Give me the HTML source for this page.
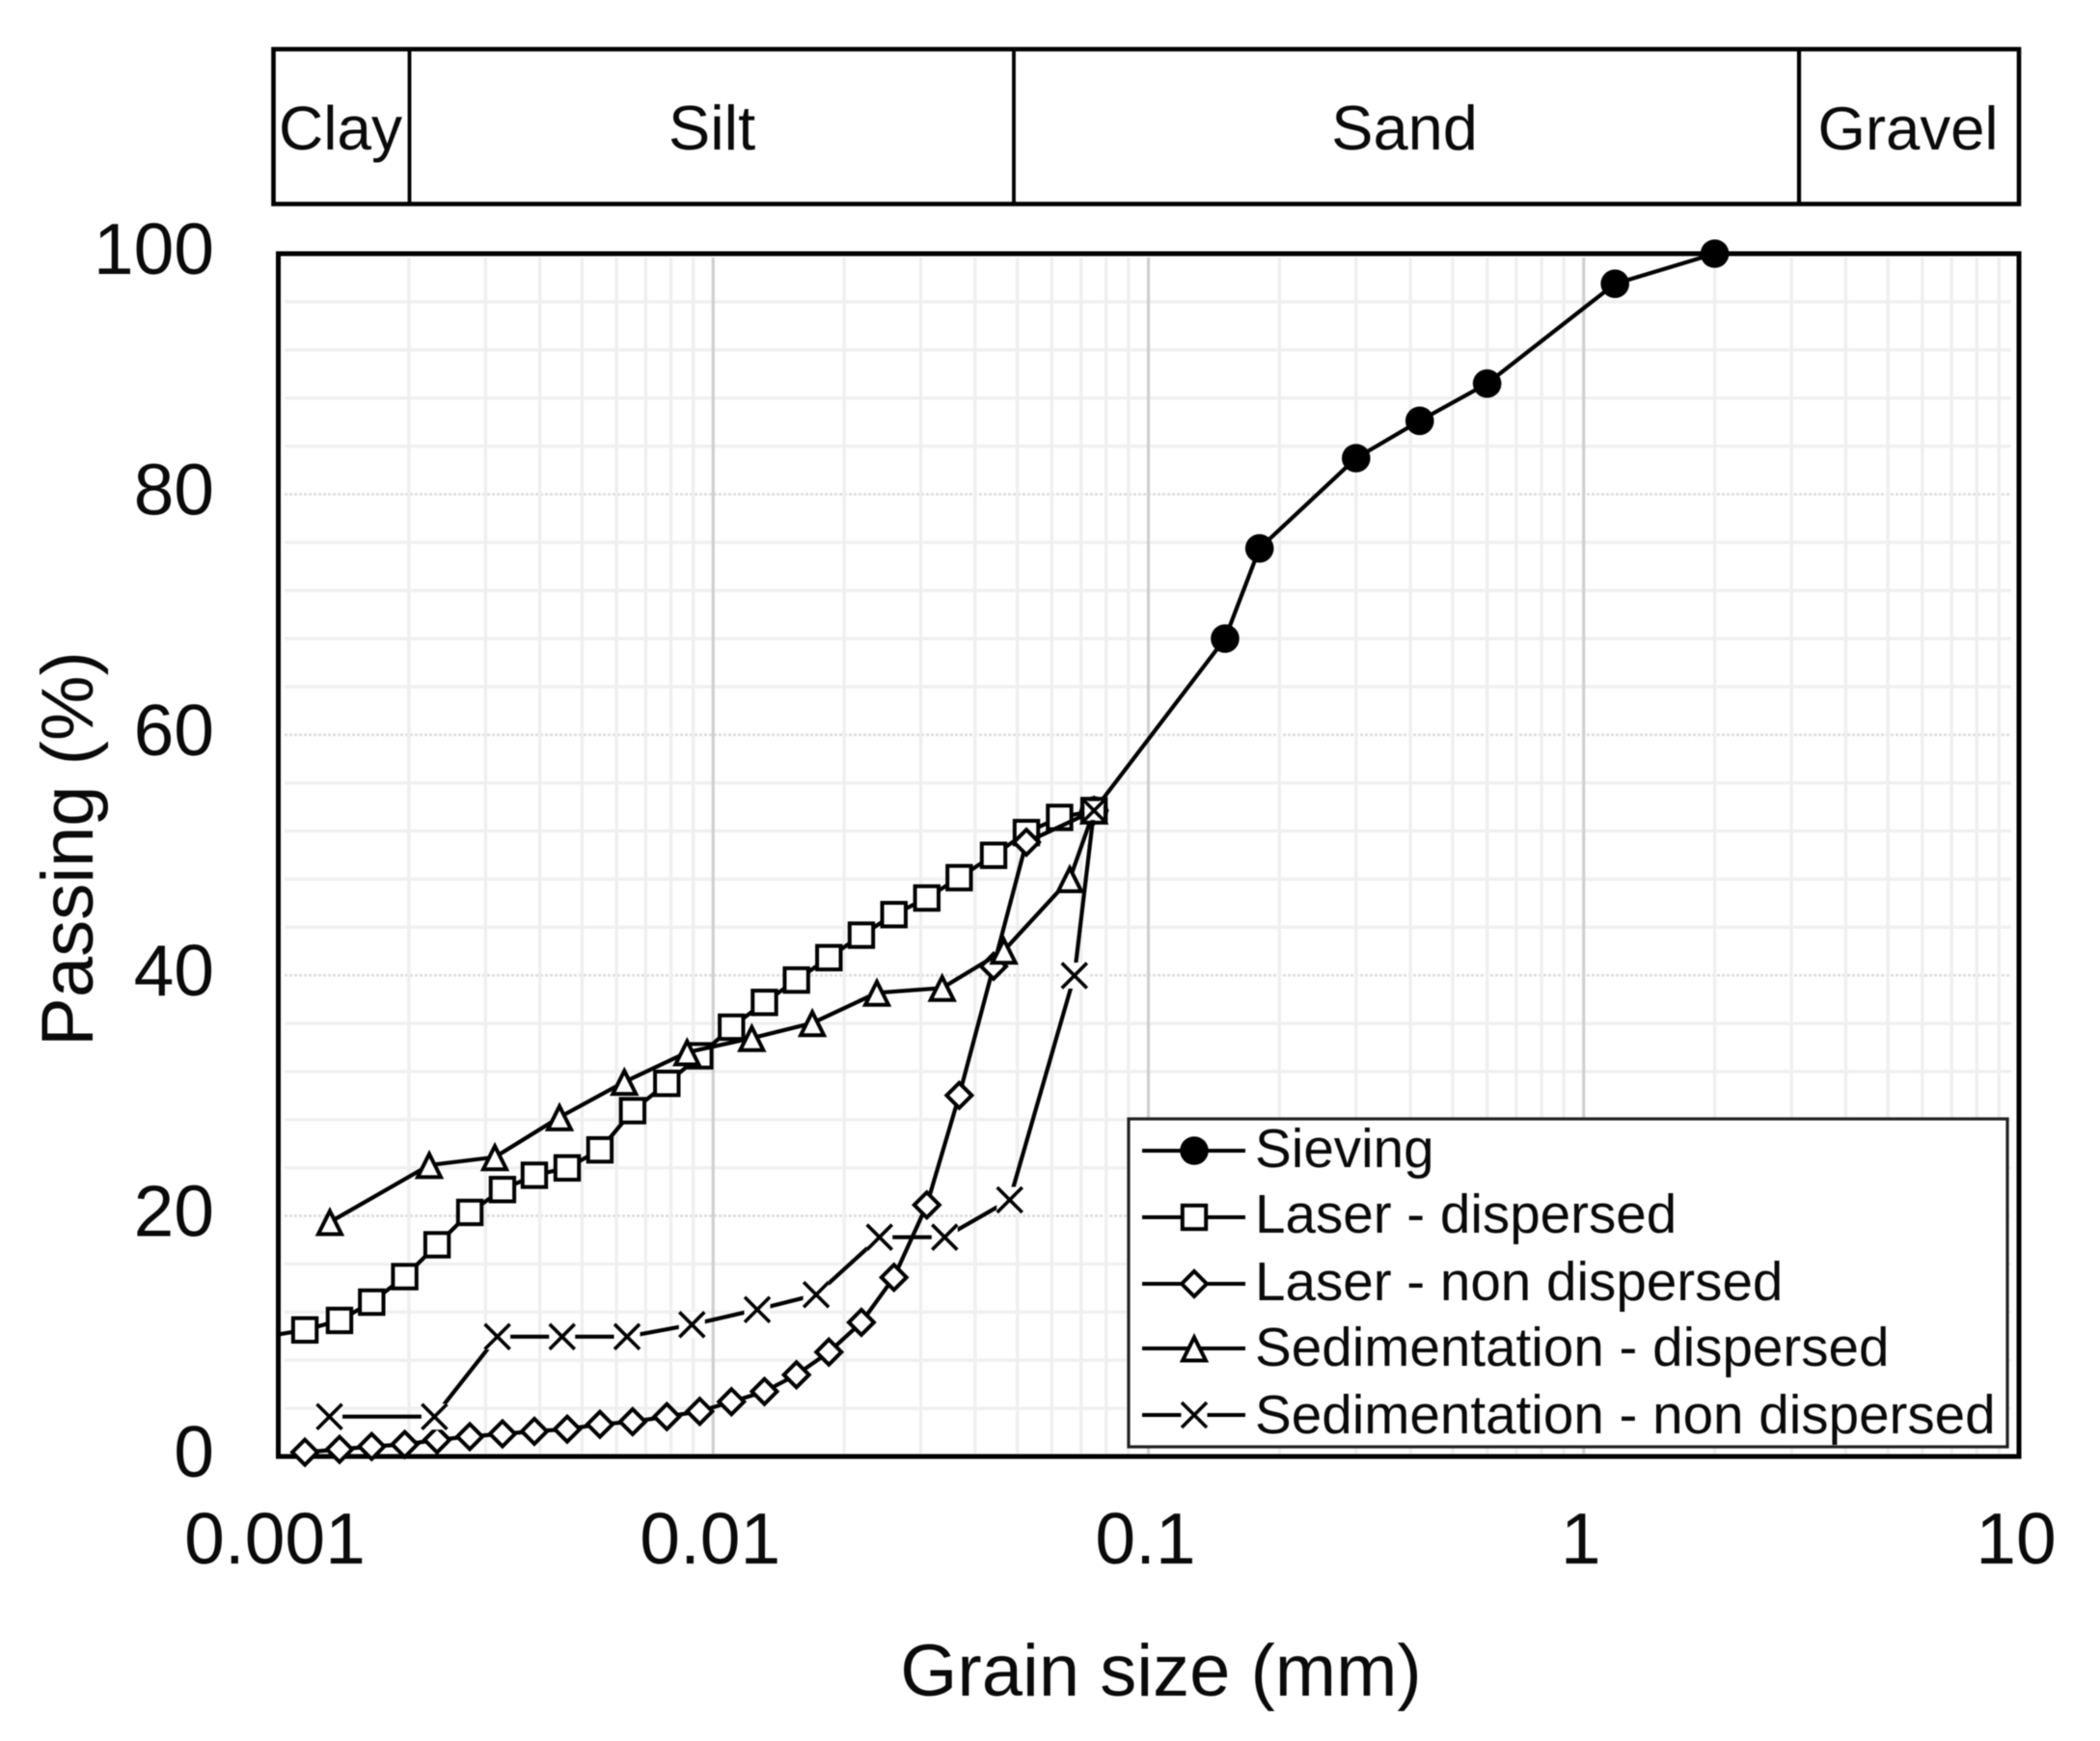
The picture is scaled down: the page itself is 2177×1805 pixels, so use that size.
<!DOCTYPE html>
<html lang="en">
<head>
<meta charset="utf-8">
<title>Grain size distribution</title>
<style>
html,body{margin:0;padding:0;background:#fff;}
svg{display:block;filter:blur(0.6px);}
text{font-family:"Liberation Sans",Arial,sans-serif;fill:#0a0a0a;}
</style>
</head>
<body>
<svg id="chart" xmlns="http://www.w3.org/2000/svg" width="2177" height="1805" viewBox="0 0 2177 1805">
  <defs>
    <clipPath id="plot-clip"><rect x="286" y="200" width="1900" height="1400"/></clipPath>
  </defs>
  <rect x="0" y="0" width="2177" height="1805" fill="#fff"/>

  <g>
    <rect x="283.5" y="51" width="1809.5" height="160.5" fill="#fff" stroke="#000" stroke-width="4.6"/>
    <line x1="424.5" y1="51" x2="424.5" y2="211.5" stroke="#000" stroke-width="3.8"/>
    <line x1="1051" y1="51" x2="1051" y2="211.5" stroke="#000" stroke-width="3.8"/>
    <line x1="1865" y1="51" x2="1865" y2="211.5" stroke="#000" stroke-width="4.2"/>
    <text x="353" y="155" font-size="64" text-anchor="middle">Clay</text>
    <text x="738" y="155" font-size="65" text-anchor="middle">Silt</text>
    <text x="1456" y="155" font-size="65" text-anchor="middle">Sand</text>
    <text x="1978" y="155" font-size="63.5" text-anchor="middle">Gravel</text>
  </g>

  <g id="grid"></g>
  <rect x="288.5" y="263" width="1804.5" height="1247" fill="none" stroke="#000" stroke-width="5"/>
  <g id="ticks"></g>
  <g id="series"></g>

  <text x="1203.5" y="1758" font-size="76" text-anchor="middle">Grain size (mm)</text>
  <text x="0" y="0" font-size="76" text-anchor="middle" transform="translate(96 880) rotate(-90)">Passing (%)</text>

  <g id="legend">
    <rect x="1170" y="1160" width="911" height="340" fill="#fff" stroke="#222" stroke-width="3.2"/>
    <text x="1301" y="1210" font-size="56.6">Sieving</text>
    <text x="1301" y="1278" font-size="56.6">Laser - dispersed</text>
    <text x="1301" y="1348" font-size="56.6">Laser - non dispersed</text>
    <text x="1301" y="1416" font-size="56.6">Sedimentation - dispersed</text>
    <text x="1301" y="1486" font-size="56.6">Sedimentation - non dispersed</text>
  </g>
</svg>
<script>
// ---- chart data ----
const xTickValues = [0.001, 0.01, 0.1, 1, 10];
const xTickLabels = ['0.001', '0.01', '0.1', '1', '10'];
const yTickValues = [0, 20, 40, 60, 80, 100];
const yTickLabels = ['0', '20', '40', '60', '80', '100'];
const yMinorValues = [4, 8, 12, 16, 24, 28, 32, 36, 44, 48, 52, 56, 64, 68, 72, 76, 84, 88, 92, 96];
const minorMultipliers = [2, 3, 4, 5, 6, 7, 8, 9];

const sievingX = [0.075, 0.15, 0.18, 0.3, 0.42, 0.6, 1.18, 2.0];
const sievingY = [53.7, 68.0, 75.5, 83.0, 86.1, 89.2, 97.5, 100];

const laserDispersedX = [0.00088, 0.001154, 0.001386, 0.001643, 0.001957, 0.002322, 0.002761, 0.003282, 0.003885, 0.004622, 0.005495, 0.006533, 0.007829, 0.009317, 0.01102, 0.01312, 0.01554, 0.01845, 0.02191, 0.02603, 0.03097, 0.03676, 0.04409, 0.05245, 0.06252, 0.075];
const laserDispersedY = [9.8, 10.52, 11.31, 12.83, 14.95, 17.60, 20.29, 22.19, 23.38, 23.99, 25.49, 28.75, 31.02, 33.31, 35.69, 37.75, 39.61, 41.47, 43.34, 45.05, 46.43, 48.12, 49.98, 51.87, 53.13, 53.70];

const laserNonDispersedX = [0.001154, 0.001386, 0.001643, 0.001957, 0.002322, 0.002761, 0.003282, 0.003885, 0.004622, 0.005495, 0.006533, 0.007829, 0.009317, 0.01102, 0.01312, 0.01554, 0.01845, 0.02191, 0.02603, 0.03097, 0.03676, 0.04409, 0.05245, 0.075];
const laserNonDispersedY = [0.35, 0.59, 0.83, 1.0, 1.38, 1.65, 1.88, 2.09, 2.27, 2.67, 2.89, 3.31, 3.75, 4.55, 5.40, 6.79, 8.68, 11.15, 14.89, 20.91, 30.02, 40.75, 51.07, 53.70];

const sedDispersedX = [0.001317, 0.002228, 0.003152, 0.004437, 0.006254, 0.008716, 0.01227, 0.01690, 0.02378, 0.03359, 0.04656, 0.06597, 0.075];
const sedDispersedY = [19.49, 24.23, 24.88, 28.2, 31.14, 33.6, 34.78, 36.03, 38.55, 38.95, 42.05, 48.0, 53.7];

const sedNonDispersedX = [0.001314, 0.002290, 0.003194, 0.004499, 0.006343, 0.008940, 0.01263, 0.01725, 0.02411, 0.03404, 0.04801, 0.06761, 0.075];
const sedNonDispersedY = [3.31, 3.31, 9.96, 9.96, 9.96, 10.96, 12.21, 13.45, 18.23, 18.23, 21.33, 39.98, 53.7];

// ---- axis functions ----
const NS = 'http://www.w3.org/2000/svg';
const plotLeft = 288, plotRight = 2093, plotTop = 263, plotBottom = 1510;
function xScale(v) {
  return plotLeft + (Math.log10(v) + 3) / 4 * (plotRight - plotLeft);
}
function yScale(v) {
  return plotBottom - v / 100 * (plotBottom - plotTop);
}
function make(tag, attrs, parent) {
  const el = document.createElementNS(NS, tag);
  for (const k in attrs) el.setAttribute(k, attrs[k]);
  parent.appendChild(el);
  return el;
}

// ---- grid ----
const grid = document.getElementById('grid');
yMinorValues.forEach(function (v) {
  const l = make('line', {x1: plotLeft + 7, x2: plotRight - 8, y1: yScale(v), y2: yScale(v), stroke: '#f0f0f0', 'stroke-width': 3.4}, grid);
  
  
});
yTickValues.slice(1, -1).forEach(function (v) {
  const l = make('line', {x1: plotLeft + 7, x2: plotRight - 8, y1: yScale(v), y2: yScale(v), stroke: '#dcdcdc', 'stroke-width': 2.6, 'stroke-dasharray': '3 2'}, grid);
  
  
});
xTickValues.slice(0, -1).forEach(function (d) {
  minorMultipliers.forEach(function (m) {
    const x = xScale(d * m);
    const l = make('line', {x1: x, x2: x, y1: plotTop + 4, y2: plotBottom - 3, stroke: '#efefef', 'stroke-width': 3.4}, grid);
    
    
  });
});
xTickValues.slice(1, -1).forEach(function (d) {
  const x = xScale(d);
  const l = make('line', {x1: x, x2: x, y1: plotTop + 4, y2: plotBottom - 3, stroke: '#cfcfcf', 'stroke-width': 3.2}, grid);
  
  
});

// ---- tick labels ----
const ticks = document.getElementById('ticks');
xTickValues.forEach(function (v, i) {
  const t = make('text', {x: xScale(v) - 3, y: 1621, 'font-size': 75, 'text-anchor': 'middle'}, ticks);
  
  
  t.textContent = xTickLabels[i];
});
yTickValues.forEach(function (v, i) {
  const t = make('text', {x: 222, y: yScale(v) + 21, 'font-size': 75, 'text-anchor': 'end'}, ticks);
  
  
  t.textContent = yTickLabels[i];
});

// ---- markers ----
function drawMarker(kind, x, y, parent, backing) {
  const g = make('g', {transform: 'translate(' + x + ' ' + y + ')'}, parent);
  const s = {fill: '#fff', stroke: '#000', 'stroke-width': 4, 'stroke-miterlimit': 8};
  if (kind === 'circle') {
    make('circle', {r: 14.8, fill: '#000'}, g);
  } else if (kind === 'square') {
    make('rect', Object.assign({x: -12.2, y: -12.2, width: 24.4, height: 24.4}, s), g);
  } else if (kind === 'diamond') {
    make('polygon', Object.assign({points: '0,-13 13,0 0,13 -13,0'}, s), g);
  } else if (kind === 'triangle') {
    make('polygon', Object.assign({points: '0,-11.5 12,12.5 -12,12.5'}, s), g);
  } else if (kind === 'cross') {
    const b = backing || 13.5;
    make('rect', {x: -b, y: -b, width: 2 * b, height: 2 * b, fill: '#fff'}, g);
    make('path', {d: 'M-13,-13L13,13M-13,13L13,-13', fill: 'none', stroke: '#000', 'stroke-width': 3.6}, g);
  }
  return g;
}

// ---- series ----
const seriesRoot = document.getElementById('series');
function drawSeries(name, xs, ys, kind, clip) {
  const g = make('g', {}, seriesRoot);
  
  
  if (clip) g.setAttribute('clip-path', 'url(#plot-clip)');
  const pts = xs.map(function (x, i) {
    return xScale(x).toFixed(1) + ',' + yScale(ys[i]).toFixed(1);
  }).join(' ');
  const line = make('polyline', {points: pts, fill: 'none', stroke: '#000', 'stroke-width': 4.2, 'stroke-linejoin': 'round'}, g);
  
  
  xs.forEach(function (x, i) {
    const m = drawMarker(kind, xScale(x), yScale(ys[i]), g, i === xs.length - 1 ? 9.8 : 0);
    
    
  });
}
drawSeries('sieving-series', sievingX, sievingY, 'circle', false);
drawSeries('laser-dispersed-series', laserDispersedX, laserDispersedY, 'square', true);
drawSeries('laser-non-dispersed-series', laserNonDispersedX, laserNonDispersedY, 'diamond', false);
drawSeries('sedimentation-dispersed-series', sedDispersedX, sedDispersedY, 'triangle', false);
drawSeries('sedimentation-non-dispersed-series', sedNonDispersedX, sedNonDispersedY, 'cross', false);

// ---- legend keys ----
const legend = document.getElementById('legend');
const legendKinds = ['circle', 'square', 'diamond', 'triangle', 'cross'];
const legendRows = [1193, 1262, 1331, 1398, 1467];
legendKinds.forEach(function (k, i) {
  const l = make('line', {x1: 1184, x2: 1291, y1: legendRows[i], y2: legendRows[i], stroke: '#000', 'stroke-width': 4}, legend);
  
  
  const m = drawMarker(k, 1238, legendRows[i], legend, 0);
  
  
});
</script>
</body>
</html>
